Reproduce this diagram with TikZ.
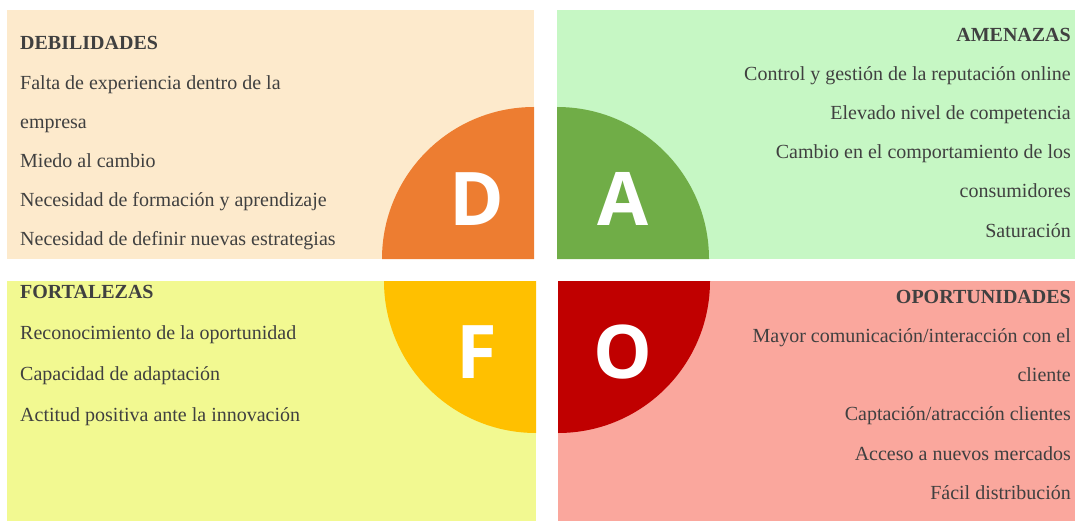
\documentclass[tikz,border=0pt]{standalone}
\usepackage{fontspec}
\setmainfont{Liberation Serif}
\newfontfamily\dafofont{Open Sans}
\definecolor{debbg}{HTML}{FDEACC}
\definecolor{amebg}{HTML}{C6F7C4}
\definecolor{forbg}{HTML}{F2F991}
\definecolor{opobg}{HTML}{FAA79D}
\definecolor{debcol}{HTML}{ED7D31}
\definecolor{amecol}{HTML}{70AD47}
\definecolor{forcol}{HTML}{FFC000}
\definecolor{opocol}{HTML}{C00000}
\definecolor{txtgray}{HTML}{404040}

\begin{document}
\begin{tikzpicture}[x=1pt,y=-1pt,
    item/.style={inner sep=0pt,text=txtgray,font=\fontsize{20}{24}\selectfont},
    head/.style={item,font=\fontsize{20}{24}\selectfont\bfseries},
    letra/.style={inner sep=0pt,text=white,font=\dafofont\bfseries\fontsize{74}{76}\selectfont}]
        \useasboundingbox (0,0) rectangle (1075,521);
        % fondos
        \fill[debbg](7,10) rectangle (534,259);
        \fill[amebg](557,10) rectangle (1075,259);
        \fill[forbg](7,281) rectangle (536,521);
        \fill[opobg](558,281) rectangle (1075,521);
        % cuartos de circulo
        \fill[debcol](534,259)--(382,259) arc[start angle=180,end angle=270,radius=152]--cycle;
        \fill[amecol](557,259)--(557,107) arc[start angle=270,end angle=360,radius=152]--cycle;
        \fill[forcol](536,281)--(384,281) arc[start angle=180,end angle=90,radius=152]--cycle;
        \fill[opocol](558,281)--(710,281) arc[start angle=0,end angle=90,radius=152]--cycle;
        \node[letra](D) at (477,199){D};
        \node[letra](A) at (623,199){A};
        \node[letra](F) at (477,352){F};
        \node[letra](O) at (623,352){O};
        % debilidades
        \node[head,anchor=base west](debil) at (20,50){DEBILIDADES};
        \foreach \t [count=\i] in {Falta de experiencia dentro de la,empresa,Miedo al cambio,
            Necesidad de formación y aprendizaje,Necesidad de definir nuevas estrategias}
            \node[item,anchor=base west](deb\i) at (20,{50+39.2*\i}){\t};
        % amenazas
        \node[head,anchor=base east](amen) at (1071,42){AMENAZAS};
        \foreach \t [count=\i] in {Control y gestión de la reputación online,Elevado nivel de competencia,
            Cambio en el comportamiento de los,consumidores,Saturación}
            \node[item,anchor=base east](ame\i) at (1071,{42+39*\i}){\t};
        % fortalezas
        \node[head,anchor=base west](fort) at (20,298){FORTALEZAS};
        \foreach \t [count=\i] in {Reconocimiento de la oportunidad,Capacidad de adaptación,
            Actitud positiva ante la innovación}
            \node[item,anchor=base west](for\i) at (20,{298+41*\i}){\t};
        % oportunidades
        \node[head,anchor=base east](opor) at (1071,303){OPORTUNIDADES};
        \foreach \t [count=\i] in {Mayor comunicación/interacción con el,cliente,
            Captación/atracción clientes,Acceso a nuevos mercados,Fácil distribución}
            \node[item,anchor=base east](opo\i) at (1071,{303+39.3*\i}){\t};
    \end{tikzpicture}
\end{document}
